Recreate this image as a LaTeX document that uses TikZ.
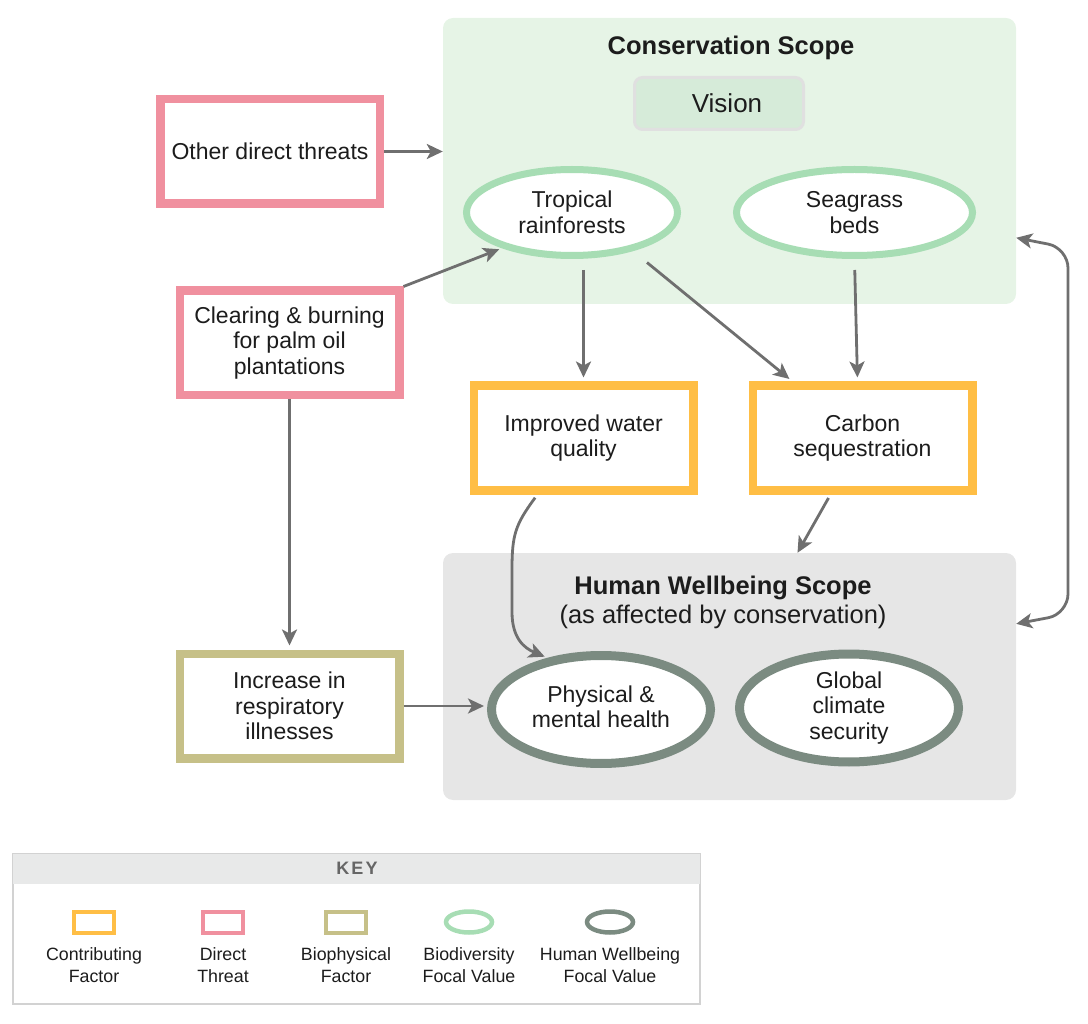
\documentclass[tikz,border=0pt]{standalone}
\usepackage{fontspec}
\setmainfont{Liberation Sans}
\newfontfamily\keyfont[LetterSpace=12]{Liberation Sans}
\usetikzlibrary{shapes.geometric,arrows.meta,calc}
\definecolor{consfill}{HTML}{E6F4E6}
\definecolor{hwfill}{HTML}{E6E6E6}
\definecolor{visfill}{HTML}{D6EBD9}
\definecolor{visline}{HTML}{E0E0E0}
\definecolor{bioline}{HTML}{A7DDB4}
\definecolor{hwline}{HTML}{7B8B81}
\definecolor{threat}{HTML}{F0909F}
\definecolor{contrib}{HTML}{FFBE45}
\definecolor{biophys}{HTML}{C6C088}
\definecolor{arrowgray}{HTML}{6F6F6F}
\definecolor{txt}{HTML}{1C1C1C}
\definecolor{keyline}{HTML}{D2D2D2}
\definecolor{keyhead}{HTML}{E8E9E9}
\definecolor{keytxt}{HTML}{666666}
\tikzset{
  every node/.style={text=txt},
  mainfont/.style={font=\fontsize{23}{25.5}\selectfont},
  factorbox/.style={rectangle, draw=#1, line width=8.5pt, fill=white, minimum width=219.5pt, minimum height=104.5pt, inner sep=0pt, align=center, mainfont},
  focal/.style={ellipse, draw=#1, fill=white, inner sep=0pt, align=center, mainfont},
  scopebox/.style={rectangle, rounded corners=10pt, fill=#1, inner sep=0pt},
  title/.style={font=\bfseries\fontsize{25.5}{28}\selectfont, align=center},
  arr/.style={draw=arrowgray, line width=2.8pt, -{Stealth[length=16pt,width=15pt,inset=4pt]}},
  dblarr/.style={draw=arrowgray, line width=2.8pt, {Stealth[length=16pt,width=15pt,inset=4pt]}-{Stealth[length=16pt,width=15pt,inset=4pt]}},
  keyrect/.style={rectangle, draw=#1, line width=4pt, fill=white, minimum width=40pt, minimum height=21pt, inner sep=0pt},
  keyell/.style={ellipse, draw=#1, line width=4.5pt, fill=white, minimum width=46pt, minimum height=21pt, inner sep=0pt},
  keylabel/.style={font=\fontsize{17.8}{22}\selectfont, align=center, text=txt}
}
\begin{document}
\begin{tikzpicture}[x=1pt,y=-1pt]
\useasboundingbox (0,0) rectangle (1088,1024);
% scope boxes
\node[scopebox=consfill, minimum width=573pt, minimum height=286pt] (cons) at (729.5,161) {};
\node[scopebox=hwfill, minimum width=573pt, minimum height=247pt] (hw) at (729.5,676.5) {};
\node[title] (constitle) at (731,48) {Conservation Scope};
\node[title] (hwtitle) at (723,588) {Human Wellbeing Scope};
\node[font=\fontsize{25.5}{28}\selectfont] (hwsub) at (723,617) {(as affected by conservation)};
\node[rectangle, rounded corners=8pt, draw=visline, line width=3pt, fill=visfill, minimum width=169pt, minimum height=52pt, inner sep=0pt, font=\fontsize{26}{28}\selectfont] (vision) at (719,103.5) {\hspace*{16pt}Vision};
% focal values
\node[focal=bioline, line width=7pt, minimum width=211pt, minimum height=86pt] (rf) at (572,212.5) {Tropical\\rainforests};
\node[focal=bioline, line width=7pt, minimum width=236pt, minimum height=86pt] (sg) at (854.5,212.5) {Seagrass\\beds};
\node[focal=hwline, line width=9pt, minimum width=219pt, minimum height=108pt] (ph) at (601,709.5) {Physical \&\\mental health\\[-20pt]\mbox{}};
\node[focal=hwline, line width=9pt, minimum width=219pt, minimum height=108pt] (gc) at (849,708) {Global\\climate\\security};
% factors
\node[factorbox=threat] (odt) at (270,151.5) {Other direct threats};
\node[factorbox=threat] (cb) at (289.5,343) {Clearing \& burning\\for palm oil\\plantations};
\node[factorbox=contrib] (wq) at (583.5,438) {Improved water\\quality};
\node[factorbox=contrib] (cs) at (862.5,438) {Carbon\\sequestration};
\node[factorbox=biophys] (ri) at (289.5,706) {Increase in\\respiratory\\illnesses};
% connectors
\draw[arr] (odt.east) -- (odt.east -| cons.west);
\draw[arr, shorten >=3pt] (cb.north east) -- (rf.207);
\draw[arr, shorten >=4pt] (cb.south) -- (ri.north);
\draw[arr, shorten >=3pt] (ri.east) -- (ri.east -| ph.west);
\draw[arr, shorten <=11pt, shorten >=4pt] (rf.south -| wq.north) -- (wq.north);
\draw[arr, shorten >=4pt] ($(rf.center)+(75,50)$) -- ($(cs.north west)+(44,0)$);
\draw[arr, shorten <=11pt, shorten >=4pt] (sg.south) -- ($(cs.north)+(-5,0)$);
\draw[arr, shorten <=4pt] ($(cs.south)+(-32,0)$) -- ($(hw.north)+(68,0)$);
\draw[arr, shorten <=4pt, shorten >=3pt] ($(wq.south)+(-46,0)$) .. controls (515,525) and (512,535) .. (512,570) -- (512,612) .. controls (512,638) and (524,648) .. (ph.136);
\coordinate (consr) at ($(cons.north east)+(0,220)$);
\coordinate (hwr) at ($(hw.north east)+(0,71)$);
\draw[dblarr, rounded corners=20pt] (consr) -- (1068,248) -- (1068,614) -- (hwr);
% key
\node[rectangle, draw=keyline, line width=2pt, minimum width=687pt, minimum height=150pt, inner sep=0pt] (key) at (356.5,929) {};
\fill[keyhead] ($(key.north west)+(1,1)$) rectangle ($(key.north east)+(-1,31)$);
\node[font=\keyfont\bfseries\fontsize{18}{20}\selectfont, text=keytxt] (keyt) at (357,868) {KEY};
\node[keyrect=contrib] (k1) at (94,922) {};
\node[keyrect=threat] (k2) at (223,922) {};
\node[keyrect=biophys] (k3) at (346,922) {};
\node[keyell=bioline] (k4) at (469,922) {};
\node[keyell=hwline] (k5) at (610,922) {};
\node[keylabel] (l1) at (94,965.5) {Contributing\\Factor};
\node[keylabel] (l2) at (223,965.5) {Direct\\Threat};
\node[keylabel] (l3) at (346,965.5) {Biophysical\\Factor};
\node[keylabel] (l4) at (469,965.5) {Biodiversity\\Focal Value};
\node[keylabel] (l5) at (610,965.5) {Human Wellbeing\\Focal Value};
\end{tikzpicture}
\end{document}
